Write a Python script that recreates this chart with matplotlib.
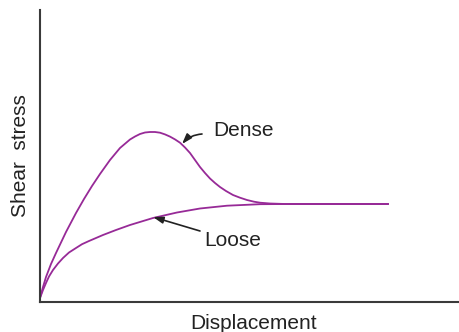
import matplotlib
matplotlib.use("Agg")
import matplotlib.pyplot as plt

plt.rcParams['font.family'] = ['Liberation Sans', 'DejaVu Sans']

# displacement / shear stress readings (arbitrary units)
dense_x = [0, 3, 6, 11, 16, 26, 36, 44, 52, 60, 70, 80, 90, 95, 100, 105, 110, 115, 120, 125,
           130, 135, 140, 145, 150, 155, 160, 165, 170, 175, 180, 186, 193, 200, 207, 214, 220,
           230, 245, 348]
dense_y = [4, 15, 25, 38, 49, 70, 89, 103, 116, 128, 142, 154, 162.5, 165.5, 168, 169.5, 170, 170, 169.3, 167.6,
           165.4, 162.6, 159.3, 154.5, 149, 142, 135, 129, 123.5, 119, 115, 111, 107, 104.3, 102, 100.3, 99.3,
           98.5, 98, 98]

loose_x = [0, 3, 6, 9, 13, 18, 23, 29, 36, 42, 49, 56, 63, 76, 90, 113, 137, 160, 187, 220, 250, 348]
loose_y = [4, 12, 19, 25.5, 32, 38.5, 44, 49.5, 54, 57.8, 61, 64, 67, 72, 77, 84, 89.5, 93.5, 96.3, 97.8, 98, 98]

purple = '#972a97'
ink = '#222222'

fig = plt.figure(figsize=(4.59, 3.32), dpi=100)
ax = fig.add_axes([40/459, 30/332, 419/459, 292/332])

ax.plot(dense_x, dense_y, color=purple, linewidth=1.3, solid_joinstyle='round')
ax.plot(loose_x, loose_y, color=purple, linewidth=1.3, solid_joinstyle='round')

ax.set_xlim(0, 419)
ax.set_ylim(0, 292)

# only the left and bottom axis lines
for side in ['top', 'right']:
    ax.spines[side].set_visible(False)
for side in ['left', 'bottom']:
    ax.spines[side].set_color('#3a3a3a')
    ax.spines[side].set_linewidth(1.5)
ax.set_xticks([])
ax.set_yticks([])

arrow = dict(arrowstyle='-|>,head_length=0.6,head_width=0.2', color=ink, lw=1.2,
             mutation_scale=10, shrinkA=0, shrinkB=0)

# labels with pointer arrows
ax.annotate('', xy=(142, 158), xytext=(162, 168),
            arrowprops=dict(arrow, connectionstyle='arc3,rad=0.2'))
ax.text(173, 172, 'Dense', fontsize=15, color=ink, va='center', ha='left')

ax.annotate('', xy=(113, 85), xytext=(160, 71), arrowprops=arrow)
ax.text(164, 62, 'Loose', fontsize=15, color=ink, va='center', ha='left')

ax.set_xlabel('Displacement', fontsize=15, color=ink)
ax.xaxis.set_label_coords(0.51, -0.04, transform=ax.transAxes)
ax.xaxis.label.set_va('top')
ax.set_ylabel('Shear  stress', fontsize=15, color=ink, labelpad=7)

fig.savefig('out.png', dpi=100)
